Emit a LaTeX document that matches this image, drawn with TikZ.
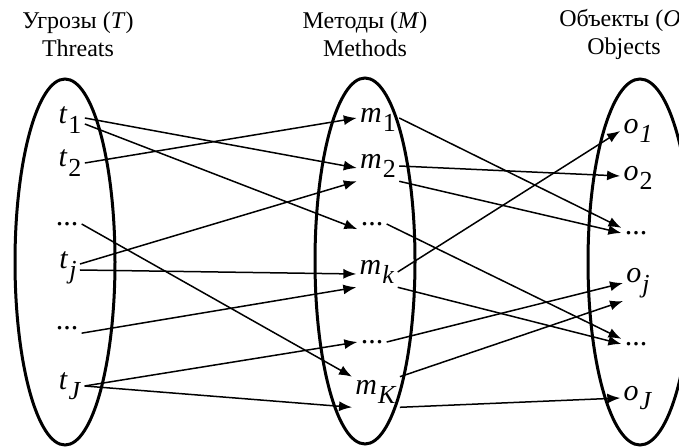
\documentclass[tikz,border=0pt]{standalone}
\usepackage{fontspec}
\setmainfont{Liberation Serif}
\usetikzlibrary{arrows.meta}

\newcommand{\lab}[2]{\textit{#1}\kern0.5pt\raisebox{-0.7ex}{\fontsize{13}{13}\selectfont #2}}

\begin{document}
\begin{tikzpicture}[x=0.5pt, y=-0.5pt, >={Latex[length=6.5pt,width=5pt]},
    set/.style={line width=1.5pt},
    elem/.style={inner sep=1.5pt, font=\fontsize{15}{17}\selectfont},
    head/.style={align=center, font=\fontsize{12}{14}\selectfont},
    link/.style={->, line width=0.75pt}]
      \useasboundingbox (0,0) rectangle (679,448);

      % three sets
      \draw[set] (65,262) ellipse (50 and 183);
      \draw[set] (365,261) ellipse (50 and 183);
      \draw[set] (640,262) ellipse (52 and 183);

      \node[head] (hT) at (78,34) {Угрозы (\textit{T})\\Threats};
      \node[head] (hM) at (365,34) {Методы (\textit{M})\\Methods};
      \node[head] (hO) at (624,34) {Объекты (\textit{O})\\Objects};

      % threats
      \node[elem] (t1) at (70,120) {\lab{t}{1}};
      \node[elem] (t2) at (70,163) {\lab{t}{2}};
      \node[elem] (td1) at (67,224) {...};
      \node[elem] (tj) at (68,268) {\lab{t}{\textit{j}}};
      \node[elem] (td2) at (67,328) {...};
      \node[elem] (tJ) at (70,386) {\lab{t}{\textit{J}}};

      % methods
      \node[elem] (m1) at (378,120) {\lab{m}{1}};
      \node[elem] (m2) at (378,166) {\lab{m}{2}};
      \node[elem] (md1) at (372,224) {...};
      \node[elem] (mk) at (377,272) {\lab{m}{\textit{k}}};
      \node[elem] (md2) at (372,342) {...};
      \node[elem] (mK) at (376,392) {\lab{m}{\textit{K}}};

      % objects
      \node[elem] (o1) at (638,131) {\lab{o}{\textit{1}}};
      \node[elem] (o2) at (638,178) {\lab{o}{2}};
      \node[elem] (od1) at (636,233) {...};
      \node[elem] (oj) at (638,283) {\lab{o}{\textit{j}}};
      \node[elem] (od2) at (636,344) {...};
      \node[elem] (oJ) at (638,398) {\lab{o}{\textit{J}}};

      % threats -> methods
      \draw[link] ([yshift=1pt]t1.east) -- ([yshift=-1pt]m2.west);
      \draw[link] ([yshift=-2pt]t1.east) -- (md1.south west);
      \draw[link] (t2.east) -- ([yshift=1pt]m1.west);
      \draw[link] (td1.east) -- (mK.north west);
      \draw[link] ([yshift=2pt]tj.east) -- (m2.south west);
      \draw[link] ([yshift=-1pt]tj.east) -- ([yshift=-1pt]mk.west);
      \draw[link] (td2.south east) -- (mk.south west);
      \draw[link] (tJ.east) -- (md2.west);
      \draw[link] (tJ.east) -- (mK.south west);

      % methods -> objects
      \draw[link] ([yshift=1pt]m1.east) -- (od1.north west);
      \draw[link] (m2.east) -- ([yshift=1pt]o2.west);
      \draw[link] (m2.south east) -- (od1.west);
      \draw[link] (md1.east) -- (od2.north west);
      \draw[link] (mk.east) -- (o1.west);
      \draw[link] (mk.south east) -- (od2.west);
      \draw[link] (md2.east) -- (oj.west);
      \draw[link] (mK.north east) -- (oj.south west);
      \draw[link] (mK.south east) -- (oJ.west);
\end{tikzpicture}
\end{document}
